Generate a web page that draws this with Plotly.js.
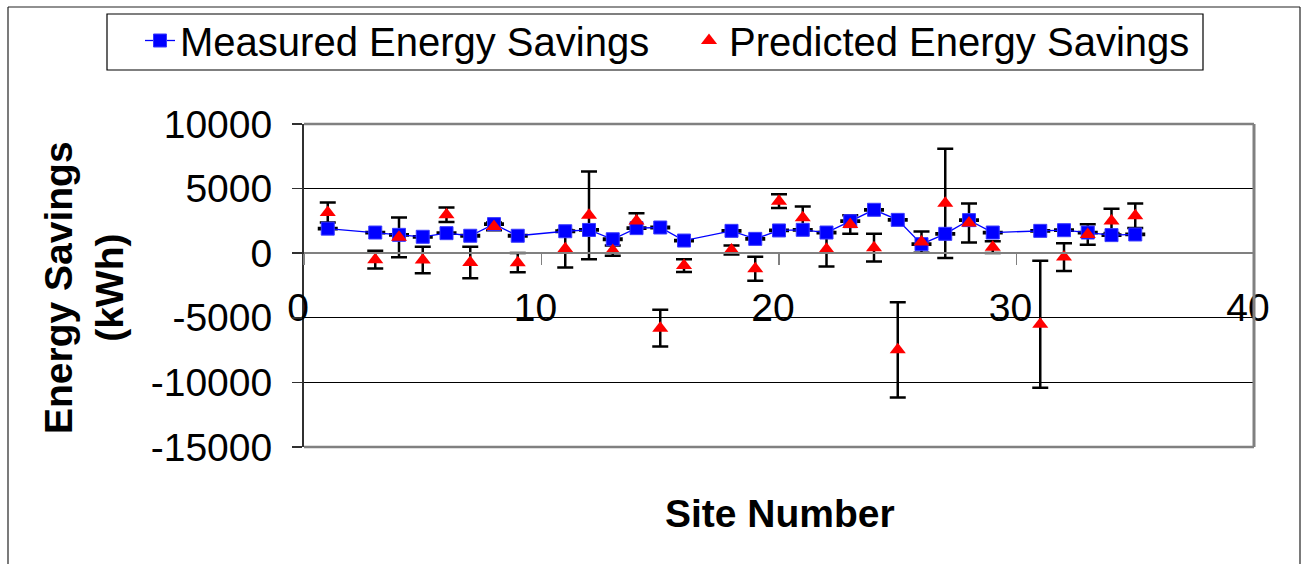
<!DOCTYPE html>
<html>
<head>
<meta charset="utf-8">
<script src="https://cdn.plot.ly/plotly-3.0.1.min.js"></script>
<style>
html,body{margin:0;padding:0;background:#fff;}
#chart{width:1302px;height:564px;}
</style>
</head>
<body>
<div id="chart"></div>
<script>
// Site numbers
const sites = [1,3,4,5,6,7,8,9,11,12,13,14,15,16,18,19,20,21,22,23,24,25,26,27,28,29,31,32,33,34,35];
// Measured energy savings (kWh)
const measured = [1900,1600,1420,1270,1550,1350,2250,1350,1700,1800,1080,1940,1990,980,1730,1110,1760,1810,1600,2480,3360,2580,700,1500,2560,1600,1730,1780,1600,1400,1450];
// Small uncertainty on measured values
const measuredErr = [50,50,50,50,50,50,50,50,50,50,50,50,50,50,50,50,50,50,50,50,50,50,50,50,50,50,50,50,50,50,50];
// Predicted energy savings (kWh)
const predicted = [3150,-500,1230,-530,2980,-720,2070,-730,350,2930,200,2500,-5800,-960,250,-1210,4030,2740,310,2220,430,-7480,860,3860,2340,470,-5500,-300,1450,2500,2900];
// Uncertainty on predicted values (kWh)
const predictedErr = [780,680,1540,1020,560,1220,300,740,1450,3400,400,600,1430,490,350,930,540,880,1340,720,1070,3680,820,4230,1510,460,4910,1070,800,940,950];
// Axis ticks
const xTicks = [0,10,20,30,40];
const yTicks = [-15000,-10000,-5000,0,5000,10000];
const yTickText = ['-15000','-10000','-5000','0','5000','10000'];

const FONT = '"Liberation Sans", Arial, Helvetica, sans-serif';

const traces = [
  {
    x: sites, y: predicted, type: 'scatter', mode: 'markers',
    marker: {color: 'rgba(0,0,0,0)', size: 1},
    error_y: {type: 'data', array: predictedErr, visible: true, color: '#000', thickness: 2.5, width: 8},
    showlegend: false, hoverinfo: 'skip'
  },
  {
    x: sites, y: measured, type: 'scatter', mode: 'lines+markers',
    name: 'Measured Energy Savings',
    line: {color: '#0000ff', width: 1.3},
    marker: {symbol: 'square', color: '#0000ff', size: 13, line: {color: '#3a3aff', width: 1}},
    error_y: {type: 'data', array: measuredErr, visible: true, color: '#000', thickness: 2.5, width: 10}
  },
  {
    x: sites, y: predicted, type: 'scatter', mode: 'markers',
    name: 'Predicted Energy Savings',
    marker: {symbol: 'triangle-up', color: '#ff0000', size: 14}
  }
];

const L = 304, R = 1254, T = 124, B = 447, W = 1302, H = 564;
const pw = R - L, ph = B - T;
const px = v => (v - L) / pw;
const py = v => (B - v) / ph;

const layout = {
  width: W, height: H,
  margin: {l: L, r: W - R, t: T, b: H - B, pad: 0, autoexpand: false},
  paper_bgcolor: '#fff', plot_bgcolor: '#fff',
  font: {family: FONT, color: '#000', size: 39},
  showlegend: true,
  legend: {
    orientation: 'h', x: px(140), xanchor: 'left', y: py(8), yanchor: 'top',
    bgcolor: 'rgba(0,0,0,0)', borderwidth: 0,
    font: {family: FONT, size: 40, color: '#000'},
    entrywidth: 504, entrywidthmode: 'pixels'
  },
  xaxis: {
    range: [0, 40], tickmode: 'array', tickvals: xTicks,
    anchor: 'free', position: 0.6,
    showline: true, linecolor: '#808080', linewidth: 2,
    ticks: 'outside', ticklen: 11, tickcolor: '#808080', tickwidth: 1.5,
    showgrid: false, zeroline: false,
    tickfont: {family: FONT, size: 39, color: '#000'},
    ticklabelstandoff: 9, ticklabelshift: -6
  },
  yaxis: {
    range: [-15000, 10000], tickmode: 'array', tickvals: yTicks, ticktext: yTickText,
    showline: true, linecolor: '#303030', linewidth: 2,
    ticks: 'outside', ticklen: 10, tickcolor: '#303030', tickwidth: 1.5,
    showgrid: true, gridcolor: '#000', gridwidth: 1,
    zeroline: false,
    tickfont: {family: FONT, size: 39, color: '#000'},
    ticklabelstandoff: 12
  },
  shapes: [
    {type: 'line', xref: 'paper', yref: 'paper', x0: 0, x1: 1, y0: 1, y1: 1, line: {color: '#808080', width: 2.5}},
    {type: 'line', xref: 'paper', yref: 'paper', x0: 1, x1: 1, y0: 0, y1: 1, line: {color: '#808080', width: 3}},
    {type: 'line', xref: 'paper', yref: 'paper', x0: 0, x1: 1, y0: 0, y1: 0, line: {color: '#808080', width: 2.5}},
    {type: 'rect', xref: 'paper', yref: 'paper', x0: px(107), x1: px(1203), y0: py(14), y1: py(70), line: {color: '#000', width: 1.2}, fillcolor: 'rgba(0,0,0,0)'},
    {type: 'line', xref: 'paper', yref: 'paper', x0: px(8), x1: px(1300), y0: py(7), y1: py(7), line: {color: '#222', width: 1.2}},
    {type: 'line', xref: 'paper', yref: 'paper', x0: px(8), x1: px(8), y0: py(7), y1: py(570), line: {color: '#222', width: 1.2}},
    {type: 'line', xref: 'paper', yref: 'paper', x0: px(1300), x1: px(1300), y0: py(7), y1: py(570), line: {color: '#222', width: 1.2}}
  ],
  annotations: [
    {text: '<b>Site Number</b>', xref: 'paper', yref: 'paper', x: px(780), y: py(513), xanchor: 'center', yanchor: 'middle', showarrow: false, font: {family: FONT, size: 39, color: '#000'}},
    {text: '<b>Energy Savings<br>(kWh)</b>', xref: 'paper', yref: 'paper', x: px(84), y: py(288), xanchor: 'center', yanchor: 'middle', textangle: -90, showarrow: false, font: {family: FONT, size: 39, color: '#000'}}
  ]
};

Plotly.newPlot('chart', traces, layout, {displayModeBar: false, staticPlot: true});
</script>
</body>
</html>
